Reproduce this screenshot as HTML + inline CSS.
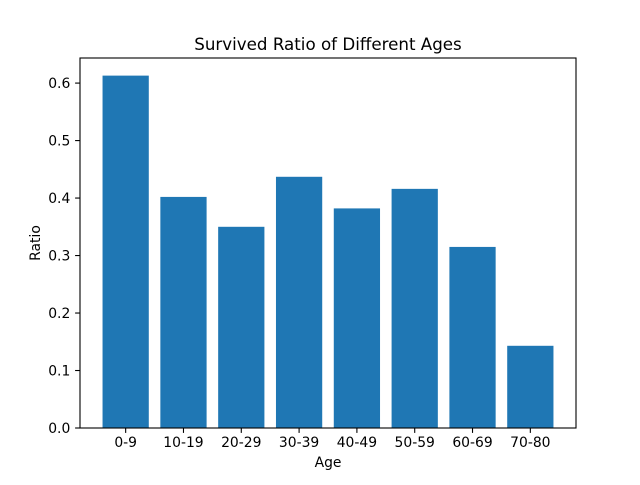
<!DOCTYPE html>
<html><head><meta charset="utf-8"><style>
body{margin:0;background:#fff;}
svg text{font-family:"DejaVu Sans","Liberation Sans",sans-serif;fill:#000;}
</style></head><body>
<svg id="chart" width="640" height="480" xmlns="http://www.w3.org/2000/svg">
<rect width="640" height="480" fill="#fff"/>
<g id="bars"></g>
<g id="axes"></g>
</svg>
<script>
const categories=["0-9","10-19","20-29","30-39","40-49","50-59","60-69","70-80"];
const ratios=[0.613,0.402,0.350,0.437,0.382,0.416,0.315,0.143];
const yTicks=[0.0,0.1,0.2,0.3,0.4,0.5,0.6];
const yTickLabels=["0.0","0.1","0.2","0.3","0.4","0.5","0.6"];

const L=80,R=576,T=58,B=428;
const n=categories.length;
const xmin=-0.4-0.05*(n-1+0.8),xmax=(n-1)+0.4+0.05*(n-1+0.8);
const ymax=Math.max(...ratios)*1.05;
const x=v=>L+(v-xmin)/(xmax-xmin)*(R-L);
const y=v=>B-v/ymax*(B-T);
const NS="http://www.w3.org/2000/svg";
function mk(tag,attrs,parent,text){const e=document.createElementNS(NS,tag);for(const k in attrs)e.setAttribute(k,attrs[k]);if(text!==undefined)e.textContent=text;parent.appendChild(e);return e;}
const bars=document.getElementById('bars'),axes=document.getElementById('axes');
ratios.forEach((v,i)=>{
  const r=mk('rect',{x:x(i-0.4),y:y(v),width:x(i+0.4)-x(i-0.4),height:B-y(v),fill:'#1f77b4'},bars);
  
  
});
categories.forEach((c,i)=>{
  mk('line',{x1:x(i),x2:x(i),y1:B,y2:B+4.9,stroke:'#000','stroke-width':1.1},axes);
  const t=mk('text',{x:x(i),y:B+19,'font-size':13.9,'text-anchor':'middle'},axes,c);
  
  
});
yTicks.forEach((v,i)=>{
  mk('line',{x1:L-4.9,x2:L,y1:y(v),y2:y(v),stroke:'#000','stroke-width':1.1},axes);
  const t=mk('text',{x:L-9.7,y:y(v)+5,'font-size':13.9,'text-anchor':'end'},axes,yTickLabels[i]);
  
  
});
const fr=mk('rect',{x:L,y:T,width:R-L,height:B-T,fill:'none',stroke:'#000','stroke-width':1.1},axes);


const tt=mk('text',{x:(L+R)/2,y:T-8,'font-size':16.7,'text-anchor':'middle'},axes,'Survived Ratio of Different Ages');


const xt=mk('text',{x:(L+R)/2,y:B+39,'font-size':13.9,'text-anchor':'middle'},axes,'Age');


const yt=mk('text',{x:0,y:0,'font-size':13.9,'text-anchor':'middle',transform:`translate(40,${(T+B)/2}) rotate(-90)`},axes,'Ratio');


</script>
</body></html>
